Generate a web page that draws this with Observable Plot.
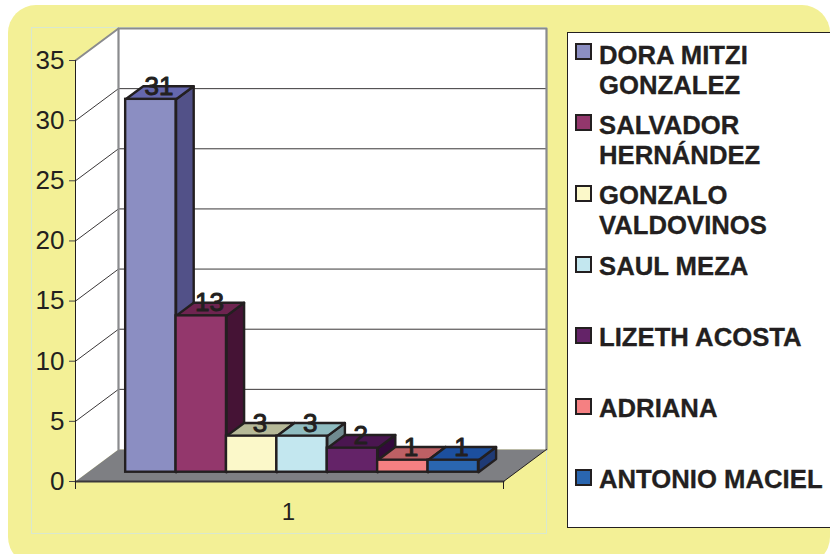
<!DOCTYPE html>
<html><head><meta charset="utf-8">
<script src="https://cdn.jsdelivr.net/npm/d3@7"></script>
<script src="https://cdn.jsdelivr.net/npm/@observablehq/plot@0.6"></script>
<style>
html,body{margin:0;padding:0;background:#fff;overflow:hidden}
#page{position:relative;width:830px;height:554px;overflow:hidden;font-family:"Liberation Sans",Arial,sans-serif;color:#231f20}
#panel{position:absolute;left:8px;top:5px;width:822px;height:560px;background:#f3f096;border-radius:28px}
#frame{position:absolute;left:31px;top:27px;width:514px;height:505px;border:1px solid #d9e8cf;box-sizing:content-box}
#chart{position:absolute;left:0;top:0}
#legend{position:absolute;left:567px;top:32px;width:270px;height:494px;background:#fff;border:1px solid #231f20}
.sw{position:absolute;left:7px;width:13px;height:13px;border:2.5px solid #231f20}
.lb{position:absolute;left:31px;font-weight:bold;font-size:25.7px;line-height:30px;white-space:pre;-webkit-text-stroke:0.3px #231f20}
</style></head><body>
<div id="page"><div id="panel"></div><div id="frame"></div><div id="chart"></div><div id="legend"></div></div>
<script>
const names = ["DORA MITZI\nGONZALEZ","SALVADOR\nHERNÁNDEZ","GONZALO\nVALDOVINOS","SAUL MEZA","LIZETH ACOSTA","ADRIANA","ANTONIO MACIEL"];
const votes = [31,13,3,3,2,1,1];
const frontColors = ["#8b8ec2","#93376c","#fbf8c9","#c3e7ef","#642368","#f58082","#2a66b0"];
const topColors   = ["#6567ae","#6e2450","#b6b998","#8fbcc0","#4a1650","#bd6064","#1c4f9e"];
const sideColors  = ["#525188","#451335","#8a8b6c","#708b90","#34093c","#8f4548","#1f3a75"];
const yTicks = [0,5,10,15,20,25,30,35];
const categoryLabel = "1";

const DARK="#231f20", GREY="#8a8b8e";
const unitsX = 428/50.4, maxY = 35;
const depthX = 43/50.4, depthY = 32/(421/35);
const d0 = 0.29, d1 = 0.70;
const gap = 37.7/50.4;
const P = (x,y,d=0)=>({x:x+d*depthX,y:y+d*depthY});
const poly=(pts,o)=>Plot.line(pts,{x:"x",y:"y",curve:"linear-closed",strokeLinejoin:"round",...o});
const seg=(pts,o)=>Plot.line(pts,{x:"x",y:"y",...o});

const marks=[];
// back wall & side wall
marks.push(poly([P(0,0,1),P(unitsX,0,1),P(unitsX,maxY,1),P(0,maxY,1)],{fill:"#fff",stroke:"none"}));
marks.push(poly([P(0,0,0),P(0,0,1),P(0,maxY,1),P(0,maxY,0)],{fill:"#fff",stroke:"none"}));
// gridlines
for(const t of yTicks.slice(1,-1)){
  marks.push(seg([P(0,t,0),P(0,t,1),P(unitsX,t,1)],{stroke:"#3a3738",strokeWidth:1}));
}
// floor
marks.push(poly([P(0,0,0),P(unitsX,0,0),P(unitsX,0,1),P(0,0,1)],{fill:"#7e7f83",stroke:"none"}));
// walls edges
marks.push(seg([P(0,0,1),P(0,maxY,1),P(unitsX,maxY,1),P(unitsX,0,1)],{stroke:GREY,strokeWidth:2.2}));
marks.push(seg([P(0,maxY,0),P(0,maxY,1)],{stroke:GREY,strokeWidth:2}));
marks.push(seg([P(0,0,0),P(unitsX,0,0)],{stroke:"#3b383a",strokeWidth:2}));
marks.push(seg([P(unitsX,0,0),P(unitsX,0,1)],{stroke:DARK,strokeWidth:1}));
marks.push(seg([P(0,0,0),P(0,maxY,0)],{stroke:DARK,strokeWidth:1}));
// bars
votes.forEach((v,i)=>{
  const a=gap+i,b=a+1;
  const st={stroke:DARK,strokeWidth:2.4};
  marks.push(poly([P(b,0,d0),P(b,0,d1),P(b,v,d1),P(b,v,d0)],{fill:sideColors[i],...st}));
  marks.push(poly([P(a,v,d0),P(b,v,d0),P(b,v,d1),P(a,v,d1)],{fill:topColors[i],...st}));
  const f0=P(a,0,d0),f1=P(b,v,d0);
  marks.push(Plot.rect([0],{x1:()=>f0.x,x2:()=>f1.x,y1:()=>f0.y,y2:()=>f1.y,fill:frontColors[i],...st}));
});
// value labels
const labelData=votes.map((v,i)=>({...P(gap+i+0.5,v,d0+0.4),v}));
marks.push(Plot.text(labelData,{x:"x",y:"y",text:d=>String(d.v),fontSize:26,fill:DARK,stroke:DARK,strokeWidth:1,dx:-9,dy:0}));
// axes
marks.push(Plot.axisY({anchor:"left",ticks:yTicks,tickSize:6,tickPadding:5,fontSize:26,label:null,color:DARK,tickFormat:d=>String(d),stroke:"#4a4748"}));
const tickDrop=8/(421/35);
marks.push(Plot.ruleX([0,unitsX],{x:d=>d,y1:0,y2:-tickDrop,stroke:DARK,strokeWidth:1}));
marks.push(Plot.text([categoryLabel],{x:unitsX/2,y:0,text:d=>d,fontSize:24,fill:DARK,dx:-1,dy:31}));

const chart=Plot.plot({
  width:830,height:554,marginLeft:75,marginRight:327,marginTop:60,marginBottom:73,
  style:{background:"transparent",fontFamily:'"Liberation Sans",Arial,sans-serif',overflow:"visible"},
  x:{domain:[0,unitsX],axis:null},
  y:{domain:[0,maxY],axis:null},
  marks
});
document.getElementById("chart").append(chart);

const lg=document.getElementById("legend");
const swTops=[52,123,194,265,336,407,478];
const lbTops=[55,125,195,266,337,408,479];
names.forEach((n,i)=>{
  const s=document.createElement("div");s.className="sw";s.style.background=frontColors[i];
  s.style.top=(swTops[i]-9-33)+"px";lg.append(s);
  const t=document.createElement("div");t.className="lb";t.textContent=n;
  t.style.top=(lbTops[i]-15-33)+"px";lg.append(t);
});
</script></body></html>
